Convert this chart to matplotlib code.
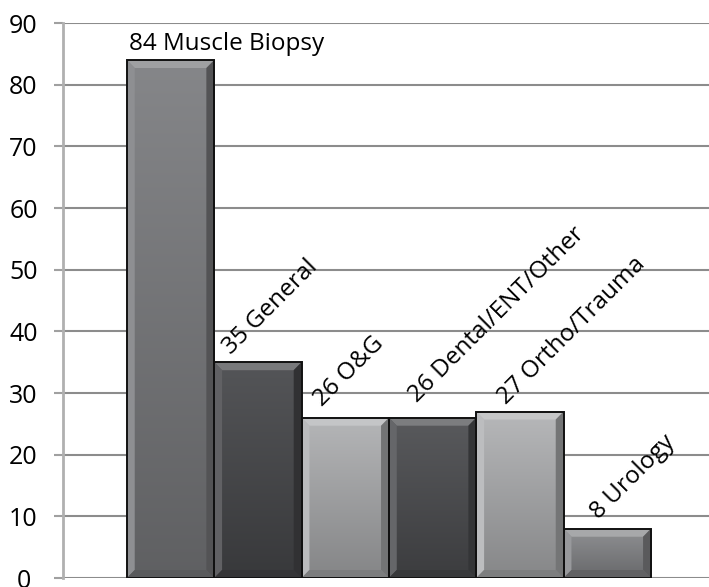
import numpy as np
import matplotlib.pyplot as plt
from matplotlib.patches import Polygon
from matplotlib.colors import to_rgb

categories = ['Muscle Biopsy', 'General', 'O&G', 'Dental/ENT/Other', 'Ortho/Trauma', 'Urology']
counts = [84, 35, 26, 26, 27, 8]
bar_colors = ['#7f8083', '#4b4c4f', '#b1b2b4', '#505154', '#b3b4b6', '#8a8b8e']

# label placement relative to bar centre / bar top (layout only)
label_dx = [-0.48, -0.306, -0.266, -0.179, -0.156, -0.092]
label_dy = [1.6, 1.16, 1.73, 2.38, 1.05, 1.4]
label_rot = [0, 45, 45, 45, 45, 45]

plt.rcParams['font.family'] = ['Open Sans', 'DejaVu Sans']

fig = plt.figure(figsize=(7.09, 5.87), dpi=100)
ax = fig.add_axes([0.0889, 0.0153, 0.92, 0.9455])

x = np.arange(len(counts))
width = 1.0


def shade(c, f):
    r, g, b = to_rgb(c)
    if f >= 0:
        return (r + (1 - r) * f, g + (1 - g) * f, b + (1 - b) * f)
    return (r * (1 + f), g * (1 + f), b * (1 + f))


bw = 0.09   # bevel width in x units
bh = 1.3    # bevel height in y units
for xi, v, c in zip(x, counts, bar_colors):
    x0, x1 = xi - width / 2, xi + width / 2
    # vertical gradient (darker toward the bottom)
    grad = np.linspace(0, 1, 100).reshape(-1, 1)
    top, bot = np.array(shade(c, 0.05)), np.array(shade(c, -0.25))
    img = bot + (top - bot) * grad
    im = ax.imshow(img.reshape(100, 1, 3), extent=(x0, x1, 0, v), origin='lower',
                   aspect='auto', zorder=2, interpolation='bilinear')
    rect = ax.bar(xi, v, width=width, facecolor='none', edgecolor='#111111',
                  linewidth=1.4, zorder=4)[0]
    im.set_clip_path(rect)
    # bevels
    ax.add_patch(Polygon([(x0, v), (x1, v), (x1 - bw, v - bh), (x0 + bw, v - bh)],
                         facecolor=shade(c, 0.25), edgecolor='none', zorder=3))
    ax.add_patch(Polygon([(x0, 0), (x0, v), (x0 + bw, v - bh), (x0 + bw, bh)],
                         facecolor=shade(c, 0.12), edgecolor='none', zorder=3))
    ax.add_patch(Polygon([(x1, 0), (x1, v), (x1 - bw, v - bh), (x1 - bw, bh)],
                         facecolor=shade(c, -0.35), edgecolor='none', zorder=3))
    ax.add_patch(Polygon([(x0, 0), (x1, 0), (x1 - bw, bh), (x0 + bw, bh)],
                         facecolor=shade(c, -0.3), edgecolor='none', zorder=3))

# value + category labels
for xi, v, name, dx, dy, rot in zip(x, counts, categories, label_dx, label_dy, label_rot):
    ax.text(xi + dx, v + dy, f'{v} {name}', rotation=rot, rotation_mode='anchor',
            ha='left', va='baseline', fontsize=17.5, zorder=5)

ax.set_xlim(-1.231, 6.237)
ax.set_ylim(0, 90)
ax.set_yticks(np.arange(0, 91, 10))
ax.set_xticks([])
ax.grid(axis='y', color='#8c8c8c', linewidth=1.5, zorder=0)
ax.set_axisbelow(True)
for s in ['top', 'right', 'bottom']:
    ax.spines[s].set_visible(False)
ax.spines['left'].set_color('#b0b0b0')
ax.spines['left'].set_linewidth(2)
ax.tick_params(axis='y', length=6.5, width=1.5, color='#a0a0a0', labelsize=18, pad=22)
for lab in ax.get_yticklabels():
    lab.set_horizontalalignment('center')

fig.savefig('out.png', dpi=100)
